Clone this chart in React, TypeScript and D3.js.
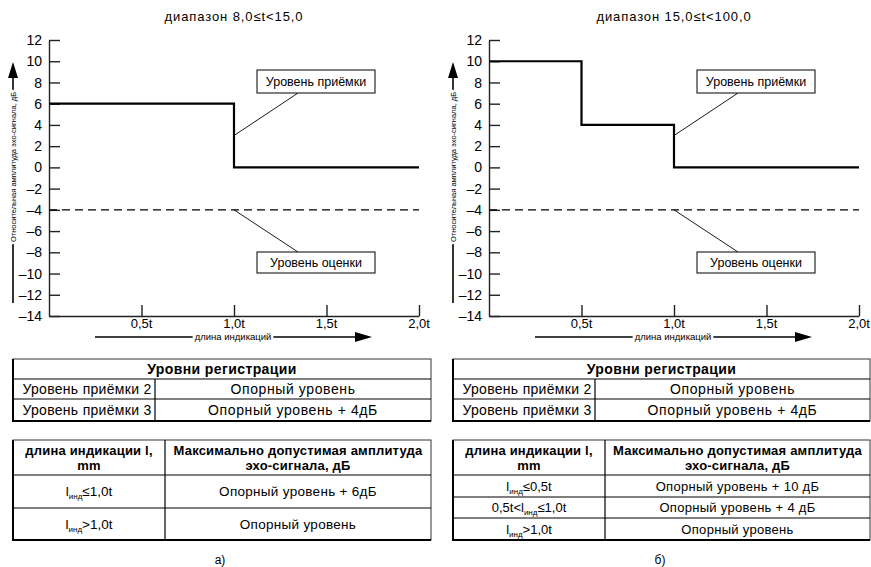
import { useEffect, useRef } from 'react'
import * as d3 from 'd3'

const W = 871
const H = 567
const FONT = '"Liberation Sans", Arial, sans-serif'

// axis ticks
const yTickValues = [-14, -12, -10, -8, -6, -4, -2, 0, 2, 4, 6, 8, 10, 12]
const xTickValues = [0.5, 1.0, 1.5, 2.0]
const xTickLabels = ['0,5t', '1,0t', '1,5t', '2,0t']

const titles = ['диапазон 8,0≤t<15,0', 'диапазон 15,0≤t<100,0']
const panelLetters = ['а)', 'б)']

// acceptance level steps (x in units of t, y in dB)
const acceptanceA = [
  { x: 0, y: 6 },
  { x: 1.0, y: 0 },
  { x: 2.0, y: 0 }
]
const acceptanceB = [
  { x: 0, y: 10 },
  { x: 0.5, y: 4 },
  { x: 1.0, y: 0 },
  { x: 2.0, y: 0 }
]
const evaluationLevel = -4

const registrationHeader = 'Уровни регистрации'
const registrationRows = [
  ['Уровень приёмки 2', 'Опорный уровень'],
  ['Уровень приёмки 3', 'Опорный уровень + 4дБ']
]

const limitHeaderLeft = ['длина индикации l,', 'mm']
const limitHeaderRight = ['Максимально допустимая амплитуда', 'эхо-сигнала, дБ']

// left cell: prefix + l(инд) + suffix
const limitRowsA = [
  { pre: '', post: '≤1,0t', value: 'Опорный уровень + 6дБ' },
  { pre: '', post: '>1,0t', value: 'Опорный уровень' }
]
const limitRowsB = [
  { pre: '', post: '≤0,5t', value: 'Опорный уровень + 10 дБ' },
  { pre: '0,5t<', post: '≤1,0t', value: 'Опорный уровень + 4 дБ' },
  { pre: '', post: '>1,0t', value: 'Опорный уровень' }
]

type Pt = { x: number; y: number }
type LimitRow = { pre: string; post: string; value: string }
type G = d3.Selection<SVGGElement, unknown, null, undefined>

const panels = [
  { dx: 0, title: titles[0], steps: acceptanceA, rows: limitRowsA, rowBreaks: [475, 508, 540], rowFont: 13.5, letter: panelLetters[0] },
  { dx: 440, title: titles[1], steps: acceptanceB, rows: limitRowsB, rowBreaks: [475, 497, 518, 540], rowFont: 13, letter: panelLetters[1] }
]

// text sitting on top of a line, with a white patch cut out of the line
function lineLabel(g: G, transform: string, size: number, label: string) {
  const lab = g.append('g').attr('transform', transform)
  const t = lab.append('text')
    .attr('text-anchor', 'middle')
    .attr('dy', '0.35em')
    .style('font-size', `${size}px`)
    .text(label)
  const b = (t.node() as SVGTextElement).getBBox()
  lab.insert('rect', 'text')
    .attr('x', b.x - 2).attr('y', -3)
    .attr('width', b.width + 4).attr('height', 6)
    .attr('fill', '#fff')
}

function drawPanel(g: G, p: typeof panels[number]) {
  const x = d3.scaleLinear().domain([0, 2]).range([49, 419])
  const y = d3.scaleLinear().domain([-14, 12]).range([316, 40])

  // title
  g.append('text')
    .attr('x', x(1)).attr('y', 21)
    .attr('text-anchor', 'middle')
    .style('font-size', '13px').style('letter-spacing', '0.9px')
    .text(p.title)

  // y axis
  const yAxis = g.append('g')
    .attr('transform', `translate(${x(0)},0)`)
    .call(d3.axisRight(y).tickValues(yTickValues).tickSize(11).tickSizeOuter(0).tickFormat(() => ''))
  yAxis.selectAll('path, line').attr('stroke', '#222').attr('stroke-width', 1.4)

  g.selectAll('.ylab')
    .data(yTickValues)
    .enter().append('text')
    .attr('class', 'ylab')
    .attr('x', 42)
    .attr('y', d => y(d))
    .attr('dy', '0.36em')
    .attr('text-anchor', 'end')
    .style('font-size', '14px')
    .text(d => (d < 0 ? '–' + Math.abs(d) : String(d)))

  // x axis
  const xAxis = g.append('g')
    .attr('transform', `translate(0,${y(-14)})`)
    .call(d3.axisTop(x).tickValues(xTickValues).tickSize(11).tickSizeOuter(0).tickFormat(() => ''))
  xAxis.selectAll('path, line').attr('stroke', '#222').attr('stroke-width', 1.4)

  g.selectAll('.xlab')
    .data(xTickValues)
    .enter().append('text')
    .attr('class', 'xlab')
    .attr('x', d => x(d))
    .attr('y', 328)
    .attr('text-anchor', 'middle')
    .style('font-size', '13px')
    .text((d, i) => xTickLabels[i])

  // x arrow
  g.append('line')
    .attr('x1', 95).attr('x2', 357).attr('y1', 337).attr('y2', 337)
    .attr('stroke', '#000').attr('stroke-width', 1.6)
  g.append('path')
    .attr('d', 'M355,332L372,337L355,342Z')
    .attr('fill', '#000')
  lineLabel(g, 'translate(233,337)', 9.5, 'длина индикаций')

  // y arrow
  g.append('line')
    .attr('x1', 13).attr('x2', 13).attr('y1', 303).attr('y2', 75)
    .attr('stroke', '#000').attr('stroke-width', 1.6)
  g.append('path')
    .attr('d', 'M8,78L13,62L18,78Z')
    .attr('fill', '#000')
  lineLabel(g, 'translate(13,167) rotate(-90)', 7.5, 'Относительная амплитуда эхо-сигнала, дБ')

  // evaluation level
  g.append('line')
    .attr('x1', x(0)).attr('x2', x(2))
    .attr('y1', y(evaluationLevel)).attr('y2', y(evaluationLevel))
    .attr('stroke', '#000').attr('stroke-width', 1.3)
    .attr('stroke-dasharray', '8,5')

  // acceptance level
  const line = d3.line<Pt>().x(d => x(d.x)).y(d => y(d.y)).curve(d3.curveStepAfter)
  g.append('path')
    .datum(p.steps)
    .attr('d', line)
    .attr('fill', 'none')
    .attr('stroke', '#000')
    .attr('stroke-width', 2.2)

  // callouts
  const callout = (ax: number, ay: number, by: number, bh: number, label: string, top: boolean) => {
    g.append('line')
      .attr('x1', ax).attr('y1', ay)
      .attr('x2', 298).attr('y2', top ? by + bh : by)
      .attr('stroke', '#000').attr('stroke-width', 0.9)
    g.append('rect')
      .attr('x', 257).attr('y', by).attr('width', 118).attr('height', bh)
      .attr('fill', '#fff').attr('stroke', '#000').attr('stroke-width', 1)
    g.append('text')
      .attr('x', 316).attr('y', by + bh / 2).attr('dy', '0.35em')
      .attr('text-anchor', 'middle')
      .style('font-size', '12.5px')
      .text(label)
  }
  callout(x(1), y(3), 70, 23, 'Уровень приёмки', true)
  callout(x(1), y(evaluationLevel), 252, 21, 'Уровень оценки', false)

  const frame = (xs: number[], ys: number[]) => {
    const x0 = xs[0], x1 = xs[xs.length - 1], y0 = ys[0], y1 = ys[ys.length - 1]
    g.append('rect')
      .attr('x', x0).attr('y', y0).attr('width', x1 - x0).attr('height', y1 - y0)
      .attr('fill', 'none').attr('stroke', '#333').attr('stroke-width', 1)
    g.append('path')
      .attr('d', `M${x0},${y0}V${y1}H${x1}`)
      .attr('fill', 'none').attr('stroke', '#000').attr('stroke-width', 2)
  }

  // registration table
  const t1x = [13, 155, p.dx ? 430 : 431]
  const t1y = [359, 379, 399, 421]
  frame(t1x, t1y)
  t1y.slice(1, -1).forEach(v => {
    g.append('line').attr('x1', t1x[0]).attr('x2', t1x[2]).attr('y1', v).attr('y2', v)
      .attr('stroke', '#000').attr('stroke-width', 1.2)
  })
  g.append('line').attr('x1', t1x[1]).attr('x2', t1x[1]).attr('y1', t1y[1]).attr('y2', t1y[3])
    .attr('stroke', '#000').attr('stroke-width', 1.2)
  g.append('text')
    .attr('x', (t1x[0] + t1x[2]) / 2).attr('y', (t1y[0] + t1y[1]) / 2).attr('dy', '0.36em')
    .attr('text-anchor', 'middle')
    .style('font-size', '14px').style('font-weight', 'bold').style('letter-spacing', '0.4px')
    .text(registrationHeader)
  registrationRows.forEach((r, i) => {
    const cy = (t1y[i + 1] + t1y[i + 2]) / 2
    g.append('text')
      .attr('x', (t1x[0] + t1x[1]) / 2 + 3).attr('y', cy).attr('dy', '0.36em')
      .attr('text-anchor', 'middle')
      .style('font-size', '14px').style('letter-spacing', '0.3px')
      .text(r[0])
    g.append('text')
      .attr('x', (t1x[1] + t1x[2]) / 2).attr('y', cy).attr('dy', '0.36em')
      .attr('text-anchor', 'middle')
      .style('font-size', '14px').style('letter-spacing', '0.6px')
      .text(r[1])
  })

  // limits table
  const t2x = [13, 165, p.dx ? 430 : 431]
  const t2y = [440, ...p.rowBreaks]
  frame(t2x, t2y)
  t2y.slice(1, -1).forEach(v => {
    g.append('line').attr('x1', t2x[0]).attr('x2', t2x[2]).attr('y1', v).attr('y2', v)
      .attr('stroke', '#000').attr('stroke-width', 1.2)
  })
  g.append('line').attr('x1', t2x[1]).attr('x2', t2x[1]).attr('y1', t2y[0]).attr('y2', t2y[t2y.length - 1])
    .attr('stroke', '#000').attr('stroke-width', 1.2)

  const headMid = (t2y[0] + t2y[1]) / 2
  ;[limitHeaderLeft, limitHeaderRight].forEach((lines, c) => {
    lines.forEach((s, k) => {
      g.append('text')
        .attr('x', (t2x[c] + t2x[c + 1]) / 2)
        .attr('y', headMid + (k === 0 ? -7 : 8)).attr('dy', '0.36em')
        .attr('text-anchor', 'middle')
        .style('font-size', '13px').style('font-weight', 'bold').style('letter-spacing', '0.2px')
        .text(s)
    })
  })

  ;(p.rows as LimitRow[]).forEach((r, i) => {
    const cy = (t2y[i + 1] + t2y[i + 2]) / 2
    const t = g.append('text')
      .attr('x', (t2x[0] + t2x[1]) / 2).attr('y', cy).attr('dy', '0.36em')
      .attr('text-anchor', 'middle')
      .style('font-size', `${p.rowFont}px`)
    if (r.pre) t.append('tspan').text(r.pre)
    t.append('tspan').text('l')
    t.append('tspan').attr('dy', 3).style('font-size', '8px').text('инд')
    t.append('tspan').attr('dy', -3).text(r.post)
    g.append('text')
      .attr('x', (t2x[1] + t2x[2]) / 2).attr('y', cy).attr('dy', '0.36em')
      .attr('text-anchor', 'middle')
      .style('font-size', `${p.rowFont}px`).style('letter-spacing', '0.3px')
      .text(r.value)
  })

  // panel letter
  g.append('text')
    .attr('x', 220).attr('y', 564)
    .attr('text-anchor', 'middle')
    .style('font-size', '12px')
    .text(p.letter)
}

export default function App() {
  const svgRef = useRef<SVGSVGElement>(null)

  useEffect(() => {
    if (!svgRef.current) return
    const svg = d3.select(svgRef.current)
    svg.selectAll('*').remove()
    svg.append('rect').attr('width', W).attr('height', H).attr('fill', '#fff')
    panels.forEach(p => {
      const g = svg.append('g')
        .attr('transform', `translate(${p.dx},0)`)
        .style('font-family', FONT)
        .style('fill', '#000')
      drawPanel(g, p)
    })
  }, [])

  return (
    <div style={{ position: 'absolute', left: 0, top: 0 }}>
      <svg ref={svgRef} width={W} height={H} style={{ display: 'block' }} />
    </div>
  )
}
